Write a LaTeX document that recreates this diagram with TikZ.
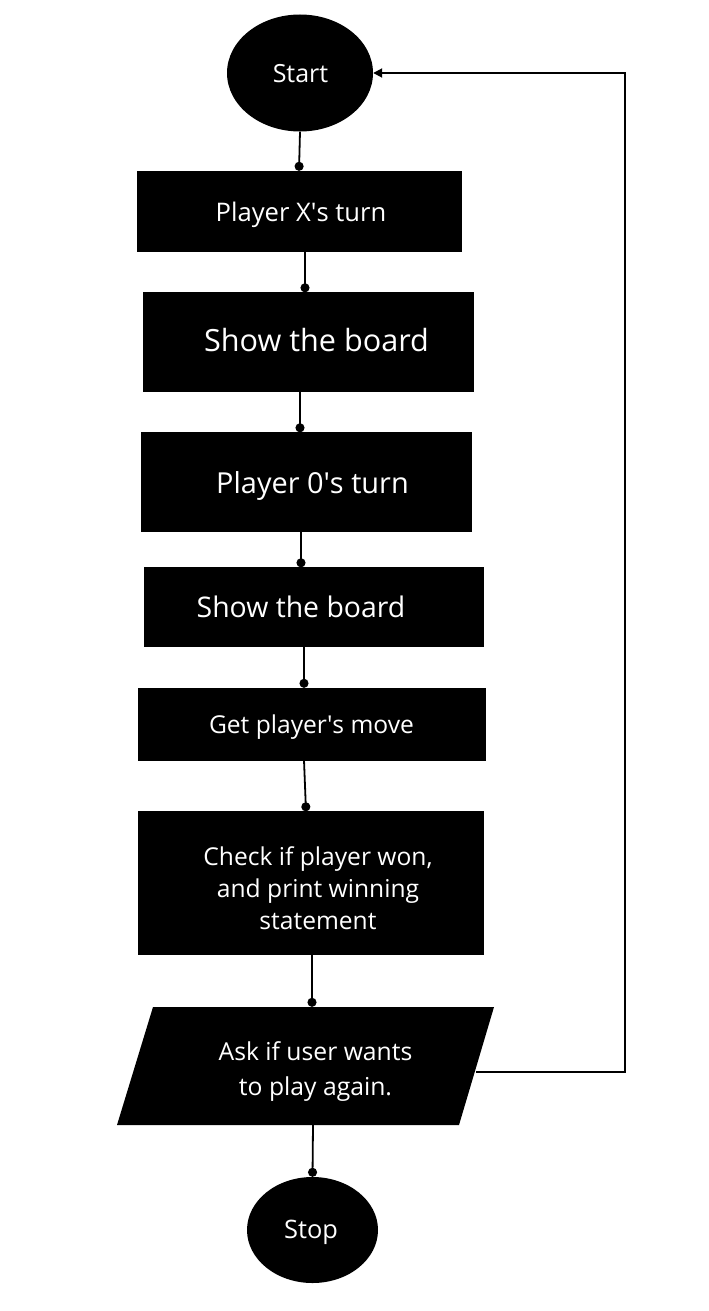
\documentclass[tikz,border=0pt]{standalone}
\usepackage{fontspec}
\setmainfont{Open Sans}
\usetikzlibrary{arrows.meta,shapes.geometric}
\tikzset{
  boxnode/.style={fill=black, draw=black, inner sep=0pt},
  termnode/.style={ellipse, fill=black, inner sep=0pt},
  lbl/.style={text=white, inner sep=0pt, align=center, anchor=base},
  link/.style={line width=1.8pt, -{Circle[length=9pt]}},
  loopline/.style={line width=1.8pt, -{Triangle[length=9pt,width=9pt]}},
}
\newcommand{\fsz}[2]{\fontsize{#1}{#2}\selectfont}
\newcommand{\aq}{\textquotesingle}
\begin{document}
\begin{tikzpicture}[x=1pt,y=-1pt]
\useasboundingbox (0,0) rectangle (709,1311);
% shapes
\node[termnode, minimum width=146pt, minimum height=117pt] (start) at (300,73) {};
\node[boxnode, minimum width=324pt, minimum height=80pt] (b1) at (299,211) {};
\node[boxnode, minimum width=330pt, minimum height=99pt] (b2) at (308,342) {};
\node[boxnode, minimum width=330pt, minimum height=99pt] (b3) at (306,482) {};
\node[boxnode, minimum width=339pt, minimum height=79pt] (b4) at (314,607) {};
\node[boxnode, minimum width=347pt, minimum height=72pt] (b5) at (312,724) {};
\node[boxnode, minimum width=345pt, minimum height=143pt] (b6) at (311,883) {};
\fill[black] (153,1007) -- (494,1007) -- (459,1125) -- (117,1125) -- cycle;
\node[inner sep=0pt, minimum width=300pt, minimum height=118pt] (para) at (313,1066) {};
\node[termnode, minimum width=131pt, minimum height=106pt] (stop) at (312.5,1230) {};
% texts
\node[lbl, font=\fsz{25}{30}] (tstart) at (300.5,83) {Start};
\node[lbl, font=\fsz{25.6}{31}] (t1) at (301,221) {Player X\aq s turn};
\node[lbl, font=\fsz{30.6}{36}] (t2) at (316.5,351) {Show the board};
\node[lbl, font=\fsz{28.9}{34}] (t3) at (312.5,493) {Player 0\aq s turn};
\node[lbl, font=\fsz{28.4}{34}] (t4) at (301,617) {Show the board};
\node[lbl, font=\fsz{24.6}{30}] (t5) at (311.5,733) {Get player\aq s move};
\node[lbl, font=\fsz{24.6}{32}] (t6) at (318,929) {Check if player won,\\and print winning\\statement};
\node[lbl, font=\fsz{24.7}{34.5}] (tpara) at (315.5,1095) {Ask if user wants\\to play again.};
\node[lbl, font=\fsz{25.4}{30}] (tstop) at (311,1238) {Stop};
% loop points
\coordinate (pr) at (476,1072);
\coordinate (rc) at (625,1072);
\coordinate (rt) at (625,73);
% connectors
\draw[link] (start.south) -- (b1.north);
\draw[link] (b1.south -| 305,0) -- (b2.north -| 305,0);
\draw[link] (b2.south -| 300,0) -- (b3.north -| 300,0);
\draw[link] (b3.south -| 301,0) -- (b4.north -| 301,0);
\draw[link] (b4.south -| 304,0) -- (b5.north -| 304,0);
\draw[link] (b5.south -| 304,0) -- (b6.north -| 306,0);
\draw[link] (b6.south -| 312,0) -- (para.north -| 312,0);
\draw[link] (para.south -| 313,0) -- (stop.north);
\draw[loopline] (pr) -- (rc) -- (rt) -- (start.east);
\end{tikzpicture}
\end{document}
